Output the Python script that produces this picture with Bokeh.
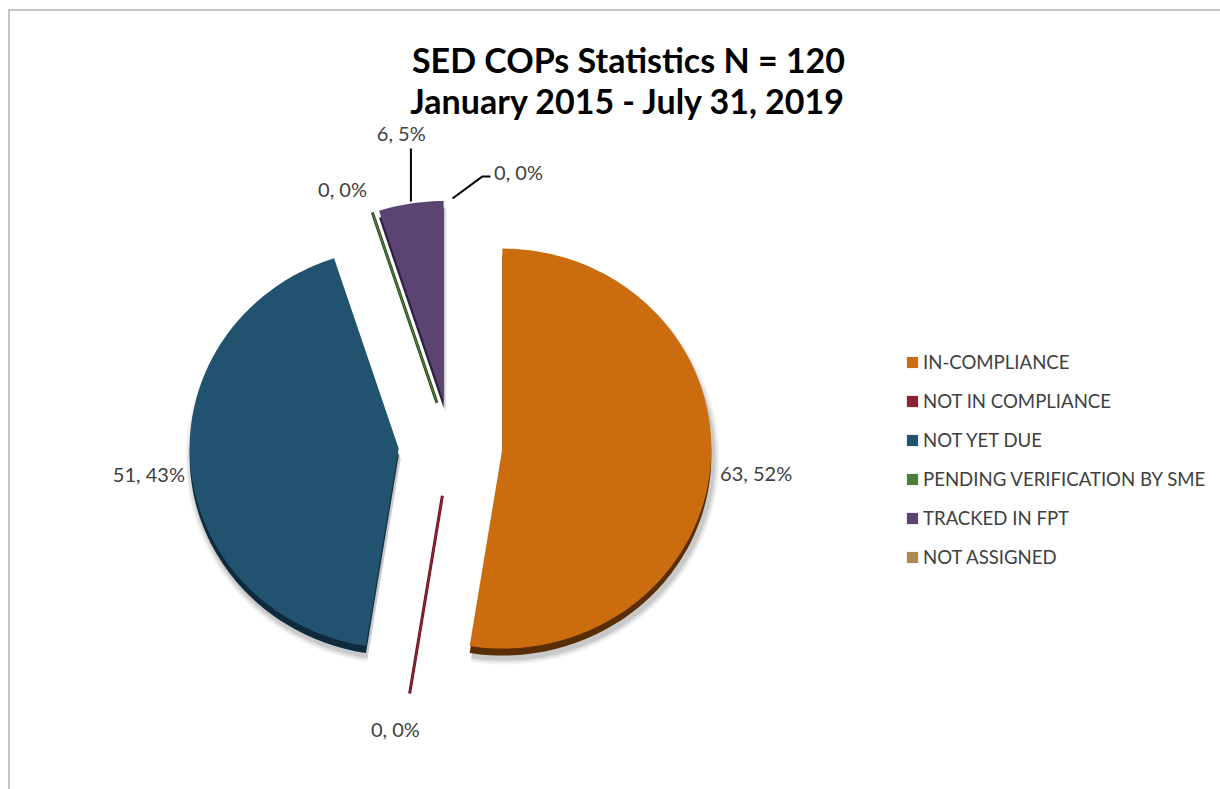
import math
from bokeh.plotting import figure
from bokeh.models import ColumnDataSource, Range1d, Legend, LegendItem, Span
from bokeh.core.properties import value
from bokeh.embed import file_html
from bokeh.resources import INLINE

# ---------------- data ----------------
title_lines = ["SED COPs Statistics N = 120", "January 2015 - July 31, 2019"]
categories = ["IN-COMPLIANCE", "NOT IN COMPLIANCE", "NOT YET DUE",
              "PENDING VERIFICATION BY SME", "TRACKED IN FPT", "NOT ASSIGNED"]
counts = [63, 0, 51, 0, 6, 0]
percents = [52, 0, 43, 0, 5, 0]

# ---------------- styles / layout ----------------
colors = ["#CB6D0E", "#8E2232", "#21526F", "#4E7D3A", "#5B4472", "#AD8950"]
rim_colors = ["#5A2E05", "#6A1020", "#0E2B3E", "#1F3A17", "#2E2140", "#6E5530"]
explode = [52, 52, 52, 44, 44, 44]
zero_line_alpha = [1, 1, 1, 1, 1, 0.0]
label_dist = [255, 238, 251, 234, 271, 238]
label_shift_deg = [1.1, 2.4, -1.2, -5.8, 0, 16.6]
FONT = "Lato"
W, H = 1220, 789
FW, FH = 1212, 780          # plot frame (inside 8px left / 9px top border)
CX, CY = 442, 345
RX, RY = 209, 200
RIM = 7

total = float(sum(counts))
th0, th1 = [], []
acc = 0
for c in counts:
    th0.append(acc / total * 2 * math.pi)
    acc += c
    th1.append(acc / total * 2 * math.pi)
mid = [(a + b) / 2 for a, b in zip(th0, th1)]
ax = [CX + e * math.sin(m) for e, m in zip(explode, mid)]
ay = [CY + e * math.cos(m) for e, m in zip(explode, mid)]


def slice_xy(i, dx=0.0, dy=0.0, grow=0.0):
    n = max(8, int(240 * (th1[i] - th0[i]) / (2 * math.pi)))
    ts = [th0[i] + (th1[i] - th0[i]) * k / n for k in range(n + 1)]
    xs = [ax[i] + dx] + [ax[i] + dx + (RX + grow) * math.sin(t) for t in ts]
    ys = [ay[i] + dy] + [ay[i] + dy + (RY + grow) * math.cos(t) for t in ts]
    return xs, ys


p = figure(width=W, height=H, x_range=Range1d(0, FW), y_range=Range1d(0, FH),
           output_backend="svg", toolbar_location=None,
           min_border_left=8, min_border_top=9, min_border_right=0, min_border_bottom=0,
           x_axis_location=None, y_axis_location=None)
p.xgrid.visible = False
p.ygrid.visible = False
p.outline_line_color = None
p.background_fill_color = "white"
p.border_fill_color = "white"
# chart-area border (left and top edges visible in the window)
p.add_layout(Span(location=0, dimension="height", line_color="#8C8C8C", line_width=2))
p.add_layout(Span(location=FH, dimension="width", line_color="#8C8C8C", line_width=2))

nz = [i for i, c in enumerate(counts) if c > 0]
zi = [i for i, c in enumerate(counts) if c == 0]

# soft drop shadow
for k, a in [(6, 0.05), (4, 0.07), (2, 0.10)]:
    sh = [slice_xy(i, 2, -RIM - 3, k) for i in nz]
    p.patches(xs=[s[0] for s in sh], ys=[s[1] for s in sh],
              fill_color="#000000", fill_alpha=a, line_color=None)
# 3D rim
rim = [slice_xy(i, 0, -RIM) for i in nz]
p.patches(xs=[s[0] for s in rim], ys=[s[1] for s in rim],
          fill_color=[rim_colors[i] for i in nz], line_color=None)
# main slices
main = [slice_xy(i) for i in nz]
p.patches(xs=[s[0] for s in main], ys=[s[1] for s in main],
          fill_color=[colors[i] for i in nz], line_color=None)

# zero-value slices drawn as thin lines
zsrc = ColumnDataSource(dict(
    x0=[ax[i] for i in zi], y0=[ay[i] for i in zi],
    x1=[ax[i] + RX * math.sin(th0[i]) for i in zi],
    y1=[ay[i] + RY * math.cos(th0[i]) for i in zi],
    color=[colors[i] for i in zi], rim=[rim_colors[i] for i in zi],
    alpha=[zero_line_alpha[i] for i in zi]))
p.segment(x0="x0", y0="y0", x1="x1", y1="y1", source=zsrc,
          line_color="rim", line_width=3, line_alpha="alpha")
p.segment(x0="x0", y0="y0", x1="x1", y1="y1", source=zsrc,
          line_color="color", line_width=1.5, line_alpha="alpha")

# legend swatches (zero-area quads carrying the category colours)
lsrc = ColumnDataSource(dict(x=[CX] * len(categories), y=[CY] * len(categories),
                             color=colors, cat=categories))
leg_r = p.quad(left="x", right="x", bottom="y", top="y", source=lsrc,
               fill_color="color", line_color=None)

# data labels
lx, ly, ltxt = [], [], []
for i, c in enumerate(counts):
    t = mid[i] + math.radians(label_shift_deg[i])
    lx.append(ax[i] + label_dist[i] * math.sin(t))
    ly.append(ay[i] + label_dist[i] * math.cos(t))
    ltxt.append(f"{c}, {percents[i]}%")
p.text(x=lx, y=ly, text=ltxt, text_font=value(FONT), text_font_size="20px",
       text_color="#404040", text_align="center", text_baseline="middle")

# leader lines (TRACKED IN FPT and NOT ASSIGNED)
i = 4
px0 = ax[i] + RX * math.sin(mid[i])
py0 = ay[i] + RY * math.cos(mid[i])
p.line(x=[px0, px0], y=[py0 + 2, ly[i] - 15], line_color="#000000", line_width=2)
i = 5
sx0 = ax[i] + 2
sy0 = ay[i] + RY + 2
ex = lx[i] - 28
ey = ly[i] - 4
p.line(x=[sx0, ex - 8, ex], y=[sy0, ey, ey], line_color="#000000", line_width=2)

# title
p.text(x=[620, 620], y=[730, 689], text=title_lines, text_font=value(FONT),
       text_font_size="34px", text_font_style="bold", text_color="#000000",
       text_align="center", text_baseline="middle")

legend = Legend(items=[LegendItem(label=categories[i], renderers=[leg_r], index=i)
                       for i in range(len(categories))],
                location=(897, 220), padding=0, margin=0, spacing=15,
                glyph_width=14, glyph_height=14, label_standoff=4,
                label_height=24,
                label_text_font=FONT, label_text_font_size="18.6px",
                label_text_color="#404040",
                border_line_color=None, background_fill_alpha=0)
p.add_layout(legend)

open("out.html", "w").write(file_html(p, INLINE))
